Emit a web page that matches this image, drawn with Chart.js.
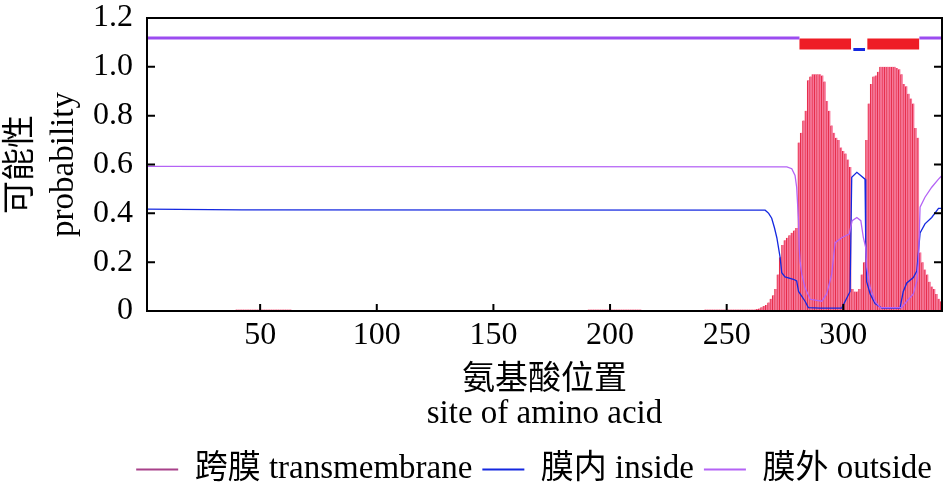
<!DOCTYPE html>
<html>
<head>
<meta charset="utf-8">
<script src="https://cdn.jsdelivr.net/npm/chart.js@4"></script>
<style>
  html, body { margin: 0; padding: 0; background: #fff; }
</style>
</head>
<body>
<canvas id="chart" width="945" height="488"></canvas>
<script>
// transmembrane probability per residue (residue 1..342)
const tmProb = [
  0,0,0,0,0,0,0,0,0,0,0,0,0,0,0,0,0,0,0,0,
  0,0,0,0,0,0,0,0,0,0,0,0,0,0,0,0,0,0,.004,.006,
  .006,.006,.006,.006,.006,.006,.006,.006,.006,.006,.006,.006,.006,.006,.006,.006,.006,.006,.006,.006,
  .006,.006,.006,0,0,0,0,0,0,0,0,0,0,0,0,0,0,0,0,0,
  0,0,0,0,0,0,0,0,0,0,0,0,0,0,0,0,0,0,0,0,
  0,0,0,0,0,0,0,0,0,0,0,0,0,0,0,0,0,0,0,0,
  0,0,0,0,0,0,0,0,0,0,0,0,0,0,0,0,0,0,0,0,
  0,0,0,0,0,0,0,0,0,0,0,0,0,0,0,0,0,0,0,0,
  0,0,0,0,0,0,0,0,0,.004,0,0,0,0,.004,0,0,0,0,0,
  .004,0,0,0,0,.004,0,0,0,0,.006,.006,.006,.006,.006,.006,.006,.006,.006,.006,
  .006,.006,.006,.006,.006,.006,.006,.006,.006,.006,.006,.006,.006,0,0,0,0,0,0,0,
  0,0,0,0,0,0,0,0,0,0,0,0,0,0,0,0,0,0,0,0,
  .006,.006,.006,.006,.006,.006,.006,.006,.006,.006,.006,.006,.006,.006,.006,.006,.006,.006,.006,.006,
  .006,.006,.008,.01,.015,.02,.025,.035,.05,.065,.09,.15,.22,.27,.29,.30,.31,.32,.33,.34,
  .69,.73,.78,.82,.945,.96,.97,.97,.97,.97,.965,.94,.86,.82,.76,.73,.71,.70,.67,.655,
  .645,.62,.59,.09,.08,.08,.09,.15,.20,.70,.85,.93,.96,.965,.98,1,1,1,1,1,
  1,1,.995,.99,.97,.93,.92,.89,.87,.85,.75,.71,.24,.20,.17,.15,.12,.10,.09,.07,
  .05,.04
];

// inside (blue) probability curve
const insideX = [1, 42, 266.5, 268, 269.3, 270.5, 271.5, 272.9, 273.6, 275, 278.6, 280, 280.8, 283.6, 285, 290, 299.3, 300.8, 302.9,
  303.6, 305.8, 309.3, 309.6, 310, 311.5, 313.6, 316.5, 324.3, 325.7, 327.2, 330, 331.5, 332.9, 335, 337.9, 340.8, 342.3];
const insideY = [0.417, 0.414, 0.413, 0.40, 0.38, 0.34, 0.30, 0.22, 0.157, 0.14, 0.13, 0.123, 0.08, 0.04, 0.014, 0.012, 0.012, 0.04, 0.08,
  0.548, 0.568, 0.54, 0.29, 0.12, 0.07, 0.03, 0.012, 0.012, 0.08, 0.115, 0.137, 0.164, 0.32, 0.357, 0.383, 0.42, 0.42];

// outside (violet) probability curve
const outsideX = [1, 275.8, 277.9, 279.3, 280, 280.8, 281.1, 281.5, 282.2, 283.6, 285.8, 290.8, 292.9, 295, 296.5, 299.3, 302.5,
  303.8, 305.8, 307.5, 308.6, 309.6, 310, 311.5, 313.6, 315.8, 325, 327.2, 330, 331.5, 332.2, 332.9, 335, 337.9, 340.8, 342.3];
const outsideY = [0.592, 0.59, 0.583, 0.555, 0.507, 0.37, 0.26, 0.2, 0.15, 0.095, 0.048, 0.04, 0.07, 0.15, 0.28, 0.30, 0.315,
  0.37, 0.383, 0.37, 0.30, 0.26, 0.18, 0.096, 0.04, 0.014, 0.014, 0.04, 0.07, 0.123, 0.2, 0.425, 0.466, 0.507, 0.54, 0.555];

// predicted topology bar at the top
const topOutside = [[1.5, 281.2], [332.6, 342.3]];
const topTm = [[281.2, 303.3], [310.3, 332.5]];
const topInside = [[304.3, 309.3]];
const topLevels = { outside: 1.118, tm: 1.094, inside: 1.071 };

const xTicks = [50, 100, 150, 200, 250, 300];
const yTicks = [0, 0.2, 0.4, 0.6, 0.8, 1.0, 1.2];

const serif = "'Liberation Serif', 'Noto Sans CJK SC', serif";

function segments(list, level) {
  const out = [];
  list.forEach((s, i) => {
    if (i > 0) out.push({ x: (list[i - 1][1] + s[0]) / 2, y: null });
    out.push({ x: s[0], y: level }, { x: s[1], y: level });
  });
  return out;
}

const frameTicks = {
  id: 'frameTicks',
  afterDatasetsDraw(chart) {
    const { ctx, chartArea: a, scales: { x, y } } = chart;
    ctx.save();
    ctx.strokeStyle = '#000';
    ctx.lineWidth = 2;
    ctx.strokeRect(a.left, a.top, a.right - a.left, a.bottom - a.top);
    ctx.beginPath();
    x.ticks.forEach(t => {
      const px = x.getPixelForValue(t.value);
      ctx.moveTo(px, a.bottom); ctx.lineTo(px, a.bottom - 7);
    });
    y.ticks.forEach(t => {
      const py = y.getPixelForValue(t.value);
      ctx.moveTo(a.left, py); ctx.lineTo(a.left + 8, py);
      ctx.moveTo(a.right, py); ctx.lineTo(a.right - 8, py);
    });
    ctx.stroke();
    ctx.restore();
  }
};

new Chart(document.getElementById('chart'), {
  type: 'bar',
  data: {
    datasets: [
      {
        type: 'line',
        label: '膜外 outside',
        data: outsideX.map((v, i) => ({ x: v, y: outsideY[i] })),
        borderColor: '#b463f5',
        borderWidth: 1.3,
        pointRadius: 0,
        fill: false,
        order: 0
      },
      {
        type: 'line',
        label: '膜内 inside',
        data: insideX.map((v, i) => ({ x: v, y: insideY[i] })),
        borderColor: '#1428e0',
        borderWidth: 1.3,
        pointRadius: 0,
        fill: false,
        order: 0
      },
      {
        type: 'line',
        label: 'top outside',
        data: segments(topOutside, topLevels.outside),
        borderColor: '#9b4cf0',
        borderWidth: 3,
        pointRadius: 0,
        spanGaps: false,
        order: 0
      },
      {
        type: 'line',
        label: 'top tm',
        data: segments(topTm, topLevels.tm),
        borderColor: '#ee1c25',
        borderWidth: 11,
        pointRadius: 0,
        spanGaps: false,
        order: 0
      },
      {
        type: 'line',
        label: 'top inside',
        data: segments(topInside, topLevels.inside),
        borderColor: '#1428e0',
        borderWidth: 3,
        pointRadius: 0,
        order: 0
      },
      {
        label: '跨膜 transmembrane',
        data: tmProb.map((v, i) => ({ x: i + 1, y: v })),
        backgroundColor: '#f7789c',
        borderColor: '#e3203c',
        borderWidth: { left: 1, right: 0, top: 0, bottom: 0 },
        borderSkipped: false,
        barPercentage: 1,
        categoryPercentage: 1,
        order: 1
      }
    ]
  },
  options: {
    responsive: false,
    animation: false,
    events: [],
    layout: { padding: { top: 18, right: 3, bottom: -8, left: 0 } },
    scales: {
      x: {
        type: 'linear',
        min: 1.5,
        max: 342.3,
        offset: false,
        grid: { display: false, drawTicks: false },
        border: { display: false },
        afterBuildTicks: s => { s.ticks = xTicks.map(v => ({ value: v })); },
        afterFit: s => { s.height = 132; s.paddingLeft = 0; s.paddingRight = 0; },
        ticks: {
          color: '#000',
          padding: 5,
          maxRotation: 0,
          font: { family: serif, size: 32 }
        },
        title: {
          display: true,
          text: ['氨基酸位置', 'site of amino acid'],
          color: '#000',
          font: { family: serif, size: 33, lineHeight: 1.03 },
          padding: { top: 0, bottom: 12 }
        }
      },
      y: {
        min: 0,
        max: 1.2,
        grid: { display: false, drawTicks: false },
        border: { display: false },
        afterBuildTicks: s => { s.ticks = yTicks.map(v => ({ value: v })); },
        afterFit: s => { s.width = 147; s.paddingTop = 0; s.paddingBottom = 0; },
        ticks: {
          color: '#000',
          padding: 14,
          font: { family: serif, size: 32 },
          callback: v => v === 0 ? '0' : v.toFixed(1)
        },
        title: {
          display: true,
          text: ['可能性', 'probability'],
          color: '#000',
          font: { family: serif, size: 33, lineHeight: 1.3 },
          padding: { top: 0, bottom: 0 }
        }
      }
    },
    plugins: {
      tooltip: { enabled: false },
      legend: {
        position: 'bottom',
        align: 'end',
        labels: {
          color: '#000',
          font: { family: serif, size: 33 },
          usePointStyle: true,
          pointStyle: 'line',
          pointStyleWidth: 42,
          padding: 10,
          generateLabels: () => [
            { text: '跨膜 transmembrane', strokeStyle: '#a8418a', fillStyle: '#a8418a', lineWidth: 2, pointStyle: 'line', datasetIndex: 5, hidden: false },
            { text: '膜内 inside', strokeStyle: '#1428e0', fillStyle: '#1428e0', lineWidth: 2, pointStyle: 'line', datasetIndex: 1, hidden: false },
            { text: '膜外 outside', strokeStyle: '#b463f5', fillStyle: '#b463f5', lineWidth: 2, pointStyle: 'line', datasetIndex: 0, hidden: false }
          ]
        }
      }
    }
  },
  plugins: [frameTicks]
});
</script>
</body>
</html>
